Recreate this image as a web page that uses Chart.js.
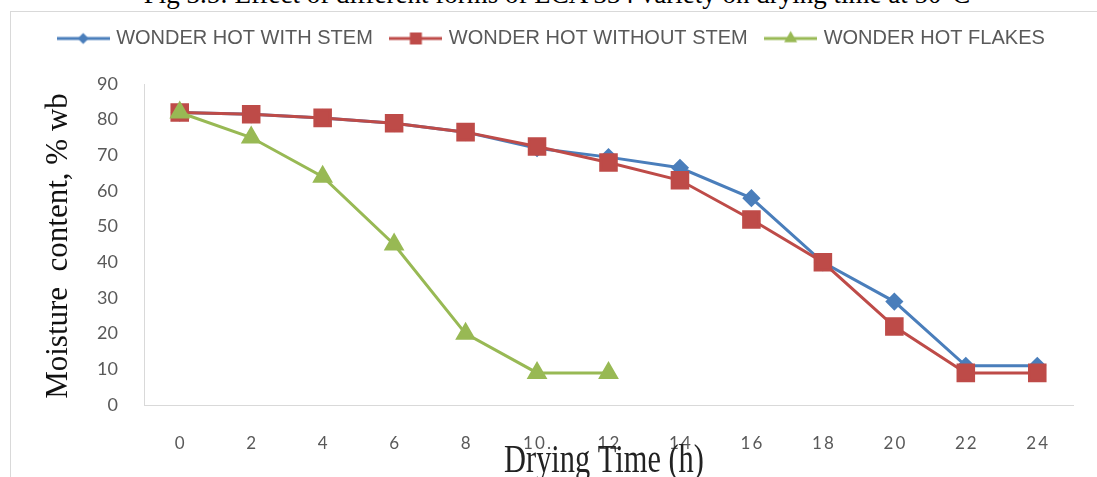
<!DOCTYPE html>
<html>
<head>
<meta charset="utf-8">
<script src="https://cdn.jsdelivr.net/npm/chart.js@4.4.1/dist/chart.umd.min.js"></script>
<style>
  html, body { margin: 0; padding: 0; background: #fff; overflow: hidden; }
  #caption { position: absolute; left: 0; top: -19px; width: 1114px; text-align: center;
             font: 27px/27px "Liberation Serif", serif; color: #000; white-space: nowrap; }
  #frame { position: absolute; left: 10px; top: 11px; width: 1120px; height: 500px; border: 1px solid #d9d9d9; }
  #dryChart { position: absolute; left: 0; top: 0; }
</style>
</head>
<body>
<div id="caption">Fig 3.5: Effect of different forms of LCA 334 variety on drying time at 50°C</div>
<div id="frame"></div>
<canvas id="dryChart" width="1097" height="477"></canvas>
<script>
// drying time (h) and moisture content (% wb)
const hours = ['0', '2', '4', '6', '8', '10.', '12', '14', '16', '18', '20', '22', '24'];
const withStem = [82, 81.5, 80.5, 79, 76.5, 72, 69.5, 66.5, 58, 40, 29, 11, 11];
const withoutStem = [82, 81.5, 80.5, 79, 76.5, 72.5, 68, 63, 52, 40, 22, 9, 9];
const flakes = [82, 75, 64, 45, 20, 9, 9];
const seriesNames = ['WONDER HOT WITH STEM', 'WONDER HOT WITHOUT STEM', 'WONDER HOT FLAKES'];
const xTitle = 'Drying Time (h)';
const yTitle = 'Moisture  content, % wb';

const BLUE = '#4a7ebb', RED = '#be4b48', GREEN = '#98b954';

// line + marker swatch for the legend
function legendIcon(color, style, radius) {
    const c = document.createElement('canvas');
    c.width = 53;
    c.height = 20;
    const g = c.getContext('2d');
    g.strokeStyle = color;
    g.fillStyle = color;
    g.lineWidth = 3;
    g.beginPath();
    g.moveTo(0, 10);
    g.lineTo(53, 10);
    g.stroke();
    Chart.helpers.drawPoint(g, { pointStyle: style, radius: radius, rotation: 0, borderWidth: 0 }, 26.5, 10);
    return c;
}
const legendIcons = [
    legendIcon(BLUE, 'rectRot', 5.5),
    legendIcon(RED, 'rect', 8.5),
    legendIcon(GREEN, 'triangle', 7.5)
];

// serif axis titles, the x one narrowed
const axisTitles = {
    id: 'axisTitles',
    afterDraw(chart) {
        const ctx = chart.ctx;
        ctx.save();
        ctx.fillStyle = '#111';
        ctx.textAlign = 'center';
        ctx.textBaseline = 'alphabetic';
        ctx.font = '31px "Liberation Serif", serif';
        ctx.translate(67, 246);
        ctx.rotate(-Math.PI / 2);
        ctx.fillText(yTitle, 0, 0);
        ctx.restore();

        ctx.save();
        ctx.fillStyle = '#222';
        ctx.textAlign = 'center';
        ctx.textBaseline = 'alphabetic';
        ctx.font = '40px "Liberation Serif", serif';
        ctx.translate(604, 472);
        ctx.scale(0.76, 1);
        ctx.fillText(xTitle, 0, 0);
        ctx.restore();
    }
};

const ctx = document.getElementById('dryChart').getContext('2d');
new Chart(ctx, {
    type: 'line',
    data: {
        labels: hours,
        datasets: [{
            label: seriesNames[0],
            data: withStem,
            borderColor: BLUE,
            backgroundColor: BLUE,
            borderWidth: 3,
            pointStyle: 'rectRot',
            pointRadius: 7,
            order: 2
        },
        {
            label: seriesNames[1],
            data: withoutStem,
            borderColor: RED,
            backgroundColor: RED,
            borderWidth: 3,
            pointStyle: 'rect',
            pointRadius: 11,
            order: 1
        },
        {
            label: seriesNames[2],
            data: flakes,
            borderColor: GREEN,
            backgroundColor: GREEN,
            borderWidth: 3,
            pointStyle: 'triangle',
            pointRadius: 9,
            order: 0
        }]
    },
    options: {
        responsive: false,
        animation: false,
        events: [],
        layout: { padding: { left: 32, right: 24, top: 8.5, bottom: 0 } },
        plugins: {
            tooltip: { enabled: false },
            legend: {
                position: 'top',
                labels: {
                    usePointStyle: true,
                    pointStyleWidth: 46,
                    padding: 20,
                    color: '#595959',
                    font: { family: '"Liberation Sans", Arial, sans-serif', size: 20 },
                    generateLabels(chart) {
                        return chart.data.datasets.map((ds, i) => ({
                            text: ds.label,
                            pointStyle: legendIcons[i],
                            fillStyle: ds.borderColor,
                            strokeStyle: ds.borderColor,
                            lineWidth: 0,
                            fontColor: '#595959',
                            hidden: false,
                            datasetIndex: i
                        }));
                    }
                }
            },
            // empty spacer between legend and plot
            title: { display: true, text: '', weight: 500, padding: 0, font: { size: 10, lineHeight: 2.55 } }
        },
        scales: {
            x: {
                offset: true,
                grid: { display: false, drawTicks: false },
                border: { color: '#d9d9d9', width: 1 },
                ticks: {
                    padding: 28,
                    color: '#595959',
                    maxRotation: 0,
                    autoSkip: false,
                    font: { family: 'Lato', size: 17 },
                    callback: (v, i) => hours[i].split('').join('\u2009')
                },
                afterFit: s => { s.height = 72; }
            },
            y: {
                min: 0,
                max: 90,
                grid: { display: false, drawTicks: false },
                border: { color: '#d9d9d9', width: 1 },
                ticks: {
                    stepSize: 10,
                    padding: 26,
                    color: '#595959',
                    font: { family: 'Lato', size: 18 }
                },
                afterFit: s => { s.width = 112; }
            }
        },
        elements: { line: { tension: 0 } }
    },
    plugins: [axisTitles]
});
</script>
</body>
</html>
